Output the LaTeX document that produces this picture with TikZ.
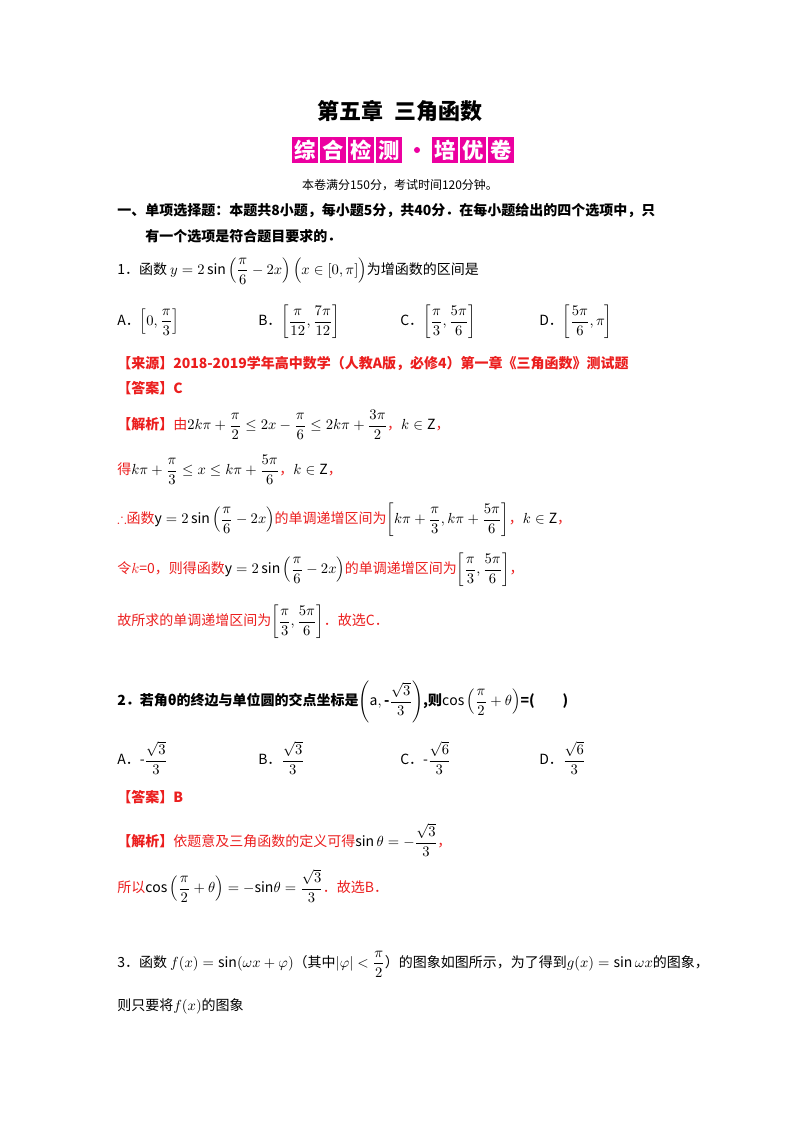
\documentclass[tikz,border=0pt]{standalone}
\usepackage{amsmath,amssymb}
\usepackage{fontspec}
\setmainfont{Noto Sans CJK SC}
\definecolor{ansred}{RGB}{235,30,30}
\definecolor{bannerpink}{RGB}{236,0,160}
\tikzset{
  txt/.style={anchor=west, inner sep=0pt, font=\fontsize{10.5}{13}\selectfont},
  red/.style={txt, text=ansred},
  band/.style={fill=bannerpink, draw=white, line width=0.6pt, minimum width=20pt,
    minimum height=20pt, inner sep=0pt, text=white, font=\fontsize{16}{16}\selectfont\bfseries}
}
\begin{document}
\begin{tikzpicture}[x=0.75pt,y=-0.75pt]
    \useasboundingbox (0,0) rectangle (800,1132);
    % Title and banner
    \node[inner sep=0pt, font=\fontsize{16.5}{16.5}\selectfont\bfseries] (title) at (400,111) {第五章\ \ 三角函数};
    \foreach \c/\xx [count=\i] in {综/305,合/333,检/361,测/389,培/445,优/473,卷/501}
        \node[band] (b\i) at (\xx,150) {\c};
    \node[fill=bannerpink, circle, inner sep=1.6pt] (dot) at (417,150) {};
    \node[inner sep=0pt, font=\fontsize{9}{9}\selectfont] (info) at (400,185) {本卷满分150分，考试时间120分钟。};
    % Section heading
    \node[txt, font=\fontsize{10.5}{13}\selectfont\bfseries] (sec) at (117,211) {一、单项选择题：本题共8小题，每小题5分，共40分．在每小题给出的四个选项中，只};
    \node[txt, font=\fontsize{10.5}{13}\selectfont\bfseries] (sec2) at (145,236) {有一个选项是符合题目要求的．};
    % Question 1
    \node[txt] (q1) at (117,271) {1．函数 $y=2\sin\left(\dfrac{\pi}{6}-2x\right)\left(\vphantom{\dfrac{\pi}{6}}x\in\left[0,\pi\right]\right)$为增函数的区间是};
    \node[txt] (q1a) at (117,322) {A．$\left[0,\dfrac{\pi}{3}\right]$};
    \node[txt] (q1b) at (258,322) {B．$\left[\dfrac{\pi}{12},\dfrac{7\pi}{12}\right]$};
    \node[txt] (q1c) at (400,322) {C．$\left[\dfrac{\pi}{3},\dfrac{5\pi}{6}\right]$};
    \node[txt] (q1d) at (539,322) {D．$\left[\dfrac{5\pi}{6},\pi\right]$};
    \node[red, font=\fontsize{10.5}{13}\selectfont\bfseries] (src) at (117,364) {【来源】2018-2019学年高中数学（人教A版，必修4）第一章《三角函数》测试题};
    \node[red, font=\fontsize{10.5}{13}\selectfont\bfseries] (ans1) at (117,388) {【答案】C};
    \node[red] (j1) at (117,425) {\textbf{【解析】}由$\color{black}2k\pi+\dfrac{\pi}{2}\le2x-\dfrac{\pi}{6}\le2k\pi+\dfrac{3\pi}{2}$，$\color{black}k\in\mathrm{Z}$，};
    \node[red] (j2) at (117,470) {得$\color{black}k\pi+\dfrac{\pi}{3}\le x\le k\pi+\dfrac{5\pi}{6}$，$\color{black}k\in\mathrm{Z}$，};
    \node[red] (j3) at (117,520) {$\therefore$函数$\color{black}\mathrm{y}=2\sin\left(\dfrac{\pi}{6}-2x\right)$的单调递增区间为$\color{black}\left[k\pi+\dfrac{\pi}{3},k\pi+\dfrac{5\pi}{6}\right]$，$\color{black}k\in\mathrm{Z}$，};
    \node[red] (j4) at (117,570) {令$k$=0，则得函数$\color{black}\mathrm{y}=2\sin\left(\dfrac{\pi}{6}-2x\right)$的单调递增区间为$\color{black}\left[\dfrac{\pi}{3},\dfrac{5\pi}{6}\right]$，};
    \node[red] (j5) at (117,622) {故所求的单调递增区间为$\color{black}\left[\dfrac{\pi}{3},\dfrac{5\pi}{6}\right]$．故选C．};
    % Question 2
    \node[txt, font=\fontsize{10.5}{13}\selectfont\bfseries] (q2) at (117,702) {2．若角θ的终边与单位圆的交点坐标是$\left(\mathrm{a},\text{-}\dfrac{\sqrt3}{3}\right)$,则$\cos\left(\dfrac{\pi}{2}+\theta\right)$=(\qquad)};
    \node[txt] (q2a) at (117,758) {A．$\text{-}\dfrac{\sqrt3}{3}$};
    \node[txt] (q2b) at (258,758) {B．$\dfrac{\sqrt3}{3}$};
    \node[txt] (q2c) at (400,758) {C．$\text{-}\dfrac{\sqrt6}{3}$};
    \node[txt] (q2d) at (539,758) {D．$\dfrac{\sqrt6}{3}$};
    \node[red, font=\fontsize{10.5}{13}\selectfont\bfseries] (ans2) at (117,797) {【答案】B};
    \node[red] (k1) at (117,840) {\textbf{【解析】}依题意及三角函数的定义可得$\color{black}\sin\theta=-\dfrac{\sqrt3}{3}$，};
    \node[red] (k2) at (117,886) {所以$\color{black}\cos\left(\dfrac{\pi}{2}+\theta\right)=-\mathit{sin\theta}=\dfrac{\sqrt3}{3}$．故选B．};
    % Question 3
    \node[txt] (q3) at (117,964) {3．函数 $f(x)=\sin(\omega x+\varphi)$（其中$|\varphi|<\dfrac{\pi}{2}$）的图象如图所示，为了得到$g(x)=\sin\omega x$的图象，};
    \node[txt] (q3b) at (117,1006) {则只要将$f(x)$的图象};
\end{tikzpicture}
\end{document}
